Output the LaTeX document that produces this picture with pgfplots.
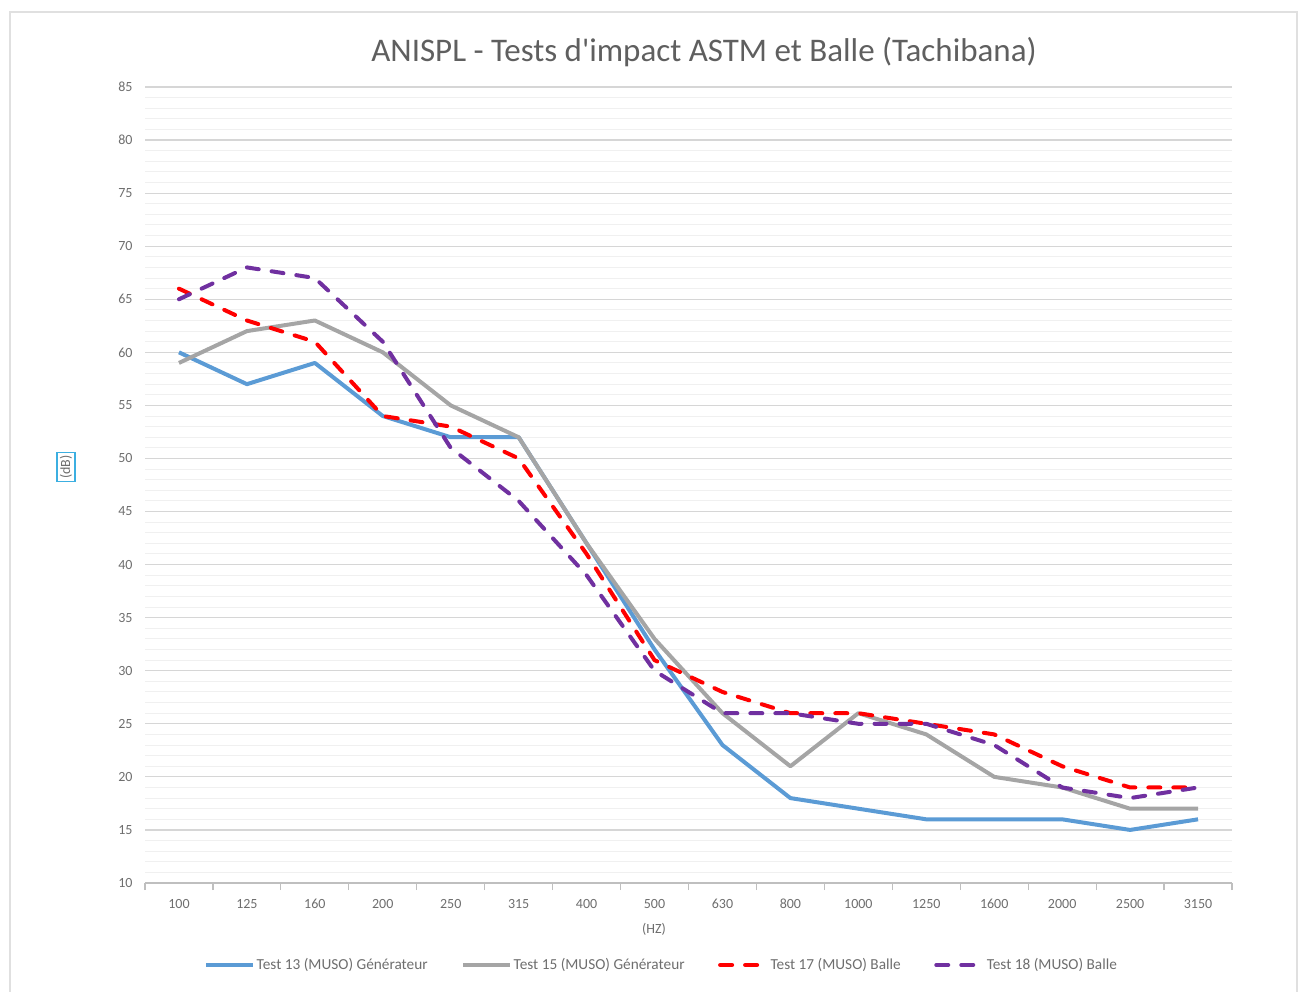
\documentclass[border=0pt]{standalone}
\usepackage{pgfplots}
\pgfplotsset{compat=1.18}
\usepackage{pgfplotstable}
\usepackage{fontspec}
\setmainfont{Carlito}[Ligatures=TeXOff]
\definecolor{cblue}{RGB}{91,155,213}
\definecolor{cgrey}{RGB}{165,165,165}
\definecolor{cred}{RGB}{255,0,0}
\definecolor{cpurple}{RGB}{112,48,160}
\definecolor{tgrey}{RGB}{95,95,95}
\definecolor{lgrey}{RGB}{110,110,110}
\definecolor{boxblue}{RGB}{60,175,225}
\pgfplotstableread{
x f t13 t15 t17 t18
0 100 60 59 66 65
1 125 57 62 63 68
2 160 59 63 61 67
3 200 54 60 54 61
4 250 52 55 53 51
5 315 52 52 50 46
6 400 42 42 41 39
7 500 32 33 31 30
8 630 23 26 28 26
9 800 18 21 26 26
10 1000 17 26 26 25
11 1250 16 24 25 25
12 1600 16 20 24 23
13 2000 16 19 21 19
14 2500 15 17 19 18
15 3150 16 17 19 19
}\data
\begin{document}
\begin{tikzpicture}
\useasboundingbox (0,0) rectangle (1301bp,992bp);
\draw[black!12, line width=1.2bp] (10bp,-5bp) rectangle (1297bp,980bp);
\node[text=tgrey, font=\fontsize{33bp}{38bp}\selectfont] at (704bp,940bp) {ANISPL - Tests d'impact ASTM et Balle (Tachibana)};
\node[draw=boxblue, line width=1.2bp, rotate=90, text=lgrey, inner sep=3bp, font=\fontsize{14bp}{16bp}\selectfont] at (66bp,525bp) {(dB)};
\node[text=lgrey, font=\fontsize{14bp}{16bp}\selectfont] at (654bp,63bp) {(HZ)};
\begin{axis}[at={(145bp,109bp)}, anchor=south west, scale only axis,
  width=1087bp, height=796bp,
  xmin=-0.5, xmax=15.5, ymin=10, ymax=85,
  xtick={0,...,15},
  xticklabels={100,125,160,200,250,315,400,500,630,800,1000,1250,1600,2000,2500,3150},
  ytick={10,15,...,85}, minor y tick num=4,
  ymajorgrids, yminorgrids,
  major grid style={black!16, line width=1.2bp},
  minor grid style={black!6, line width=1bp},
  axis line style={draw=none},
  major tick length=0pt, minor tick length=0pt,
  xtick pos=bottom, ytick pos=left,
  extra x ticks={-0.5,0.5,1.5,2.5,3.5,4.5,5.5,6.5,7.5,8.5,9.5,10.5,11.5,12.5,13.5,14.5,15.5},
  extra x tick labels={},
  extra x tick style={grid=none, major tick length=7bp, tick align=outside, tick style={draw=black!25, line width=1.2bp}},
  /pgf/number format/assume math mode=true,
  ticklabel style={font=\fontsize{14bp}{16bp}\selectfont, text=lgrey},
  yticklabel style={xshift=-9bp},
  xticklabel style={yshift=-12bp, text height=10bp, text depth=0bp},
  legend style={at={(0.475,-0.103)}, anchor=center, draw=none, fill=none,
    font=\fontsize{15.3bp}{17bp}\selectfont, text=lgrey,
    nodes={inner sep=1.5bp},
    /tikz/every even column/.append style={column sep=32bp}},
  legend columns=4, legend cell align=left,
  legend image code/.code={\draw[#1] (0bp,0bp) -- (47bp,0bp);},
  every axis plot/.append style={line width=4bp, line join=round},
]
\draw[black!25, line width=1.5bp] (axis cs:-0.5,10) -- (axis cs:15.5,10);
\addplot[cblue] table[x=x,y=t13] {\data};
\addlegendentry{Test 13 (MUSO) Générateur}
\addplot[cgrey] table[x=x,y=t15] {\data};
\addlegendentry{Test 15 (MUSO) Générateur}
\addplot[cred, line cap=round, dash pattern=on 12bp off 13bp] table[x=x,y=t17] {\data};
\addlegendentry{Test 17 (MUSO) Balle}
\addplot[cpurple, line cap=round, dash pattern=on 12bp off 13bp] table[x=x,y=t18] {\data};
\addlegendentry{Test 18 (MUSO) Balle}
\end{axis}
\end{tikzpicture}
\end{document}
